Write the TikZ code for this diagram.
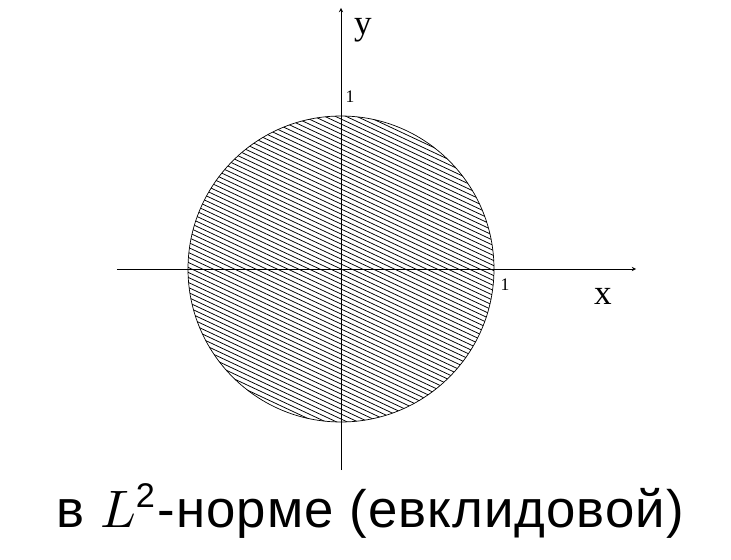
\documentclass[tikz,border=0pt]{standalone}
\usepackage{fontspec}
\newfontfamily\capfont[LetterSpace=2]{Liberation Sans}
\newfontfamily\labfont{Liberation Serif}
\begin{document}
\begin{tikzpicture}[>=stealth, x=0.03cm, y=0.03cm]
			\useasboundingbox (-341,-290) rectangle (390,269);
			% Штриховка круга
			\begin{scope}
				\clip (0,0) circle (153);
				\foreach \c in {-250,-245,...,250}
					\draw[line width=0.65pt] (-160,\c+75) -- (160,\c-75);
			\end{scope}
			\draw[line width=0.6pt] (0,0) circle (153);

			% Оси
			\coordinate (xs) at (-224,0);
			\coordinate (xe) at (295,0);
			\coordinate (ys) at (0,-201);
			\coordinate (ye) at (0,261);
			\draw[->, line width=0.6pt] (xs) -- (xe);
			\draw[->, line width=0.6pt] (ys) -- (ye);
			\node[scale=3] (xlab) at (262,-27) {\labfont x};
			\node[scale=3] (ylab) at (22,239) {\labfont y};

			% Подписи 1
			\node[scale=1.5] (xone) at (164,-16) {\labfont 1};
			\node[scale=1.5] (yone) at (9,172) {\labfont 1};

			\node[scale=4.5] (cap) at (29,-242) {\capfont в $L^{\hbox{\capfont\fontsize{6.5}{6.5}\selectfont 2}}$-норме (евклидовой)};
		\end{tikzpicture}
\end{document}
